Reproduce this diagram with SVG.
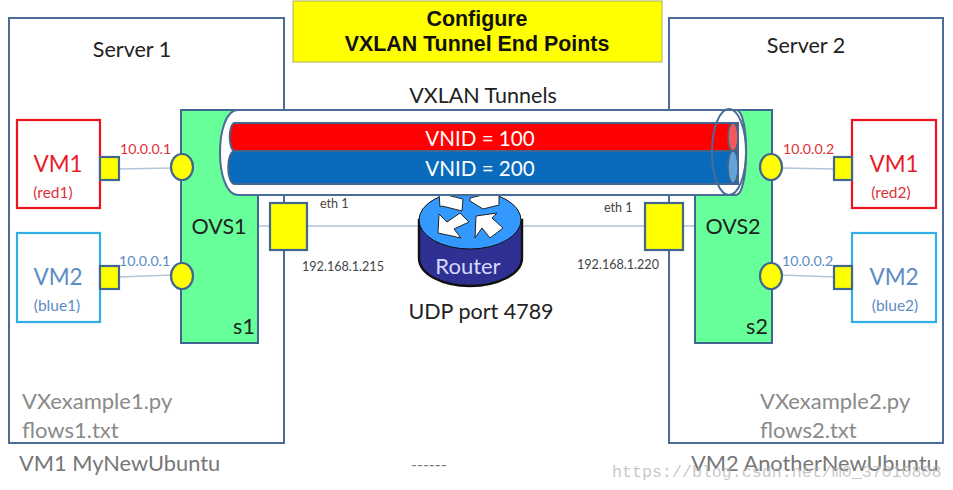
<svg xmlns="http://www.w3.org/2000/svg" width="953" height="490" viewBox="0 0 953 490">
<defs><style>
text{font-family:"Lato","Open Sans","Liberation Sans",sans-serif}
.srv{fill:#fff;stroke:#4a6c96;stroke-width:2}
.ovs{fill:#66ff99;stroke:#41668f;stroke-width:2}
.y{fill:#ffff00;stroke:#41668f;stroke-width:2.2}
.red{fill:#fff;stroke:#f01020;stroke-width:2.2}
.blue{fill:#fff;stroke:#30aee8;stroke-width:2.2}
.link{stroke:#b4c4dc;stroke-width:1.4;fill:none}
.lab{fill:#222;font-size:21.5px;text-anchor:middle}
.ip{font-size:12.6px;fill:#444}
.ipn{font-size:14.2px}
.r{fill:#e0303a}.b{fill:#5b8cc4}
.file{font-size:22px;fill:#8a8a8a}
.vm{font-size:22.5px;text-anchor:middle}
.sub{font-size:15.5px;text-anchor:middle}
.arr{fill:#fff;stroke:#222;stroke-width:1}
.foot{font-size:21.8px;fill:#777}
.ttl{font-size:21.4px;font-weight:700;text-anchor:middle;fill:#111;font-family:"Liberation Sans",sans-serif}
.vnid{font-size:20.6px;text-anchor:middle;fill:#fff}
</style></defs>
<rect width="953" height="490" fill="#fff"/>
<g id="server1"><rect class="srv" x="9" y="18" width="275" height="425"/><text x="132" y="57" class="lab">Server 1</text><text x="22" y="409" class="file">VXexample1.py</text><text x="22" y="438" class="file">flows1.txt</text></g>
<g id="server2"><rect class="srv" x="669" y="18" width="274" height="425"/><text x="806" y="53" class="lab">Server 2</text><text x="760" y="409" class="file">VXexample2.py</text><text x="760" y="438" class="file">flows2.txt</text></g>
<g id="title"><rect x="293" y="1" width="369" height="61" fill="#ffff00" stroke="#b0b060" stroke-width="1"/><text x="477" y="26" class="ttl">Configure</text><text x="477" y="51" class="ttl">VXLAN Tunnel End Points</text></g>
<g id="connectors">
<path class="link" d="M119 169L172 168M119 277L172 275M258 226H270M307 226H420M522 226H645M683 226H695M782 168L834 169M782 275L834 277"/>
</g>
<g id="ovs1"><rect class="ovs" x="181" y="110" width="77" height="233"/><text x="219" y="234" class="lab" fill="#111">OVS1</text><text x="244" y="334" class="lab">s1</text><ellipse class="y" cx="182" cy="167" rx="11" ry="13"/><ellipse class="y" cx="182" cy="276" rx="11" ry="13"/></g>
<g id="ovs2"><rect class="ovs" x="695" y="110" width="77" height="233"/><text x="733" y="234" class="lab">OVS2</text><text x="757" y="334" class="lab">s2</text><ellipse class="y" cx="771" cy="167" rx="11" ry="13"/><ellipse class="y" cx="771" cy="276" rx="11" ry="13"/></g>
<g id="vm1-red1"><rect class="red" x="17" y="120" width="83" height="88"/><text x="58" y="172" class="vm" fill="#e81c28">VM1</text><text x="53" y="198" class="sub r">(red1)</text><rect class="y" x="100" y="157" width="19" height="23"/><text x="120" y="154" class="r ipn">10.0.0.1</text></g>
<g id="vm2-blue1"><rect class="blue" x="17" y="233" width="83" height="89"/><text x="58" y="285" class="vm b">VM2</text><text x="57" y="311" class="sub b">(blue1)</text><rect class="y" x="100" y="266" width="19" height="23"/><text x="119" y="266" class="b ipn">10.0.0.1</text></g>
<g id="vm1-red2"><rect class="red" x="852" y="120" width="84" height="88"/><text x="894" y="172" class="vm" fill="#e81c28">VM1</text><text x="891" y="198" class="sub r">(red2)</text><rect class="y" x="834" y="157" width="18" height="23"/><text x="783" y="154" class="r ipn">10.0.0.2</text></g>
<g id="vm2-blue2"><rect class="blue" x="852" y="233" width="84" height="89"/><text x="894" y="285" class="vm b">VM2</text><text x="895" y="311" class="sub b">(blue2)</text><rect class="y" x="834" y="266" width="18" height="23"/><text x="782" y="266" class="b ipn">10.0.0.2</text></g>
<g id="router">
<path d="M419 220V258C419 274 442 286 470 286S522 274 522 258V220Z" fill="#2e3192" stroke="#111" stroke-width="2.4"/>
<ellipse cx="470" cy="220" rx="51" ry="29" fill="#3399ff" stroke="#111" stroke-width="1"/>
<path class="arr" d="M439 193L463 199L462 211L442 206L440 207Z"/>
<path class="arr" d="M470 198L499 191L499 205L483 209L470 201Z"/>
<path class="arr" d="M439 214L438 233L461 238L454 229L469 222L460 213L447 222Z"/>
<path class="arr" d="M475 238L476 216L497 213L492 218L503 228L490 238L482 228Z"/>
<text x="468" y="274" text-anchor="middle" font-size="22" fill="#d8d8ff">Router</text>
</g>
<g id="eth1"><rect class="y" x="270" y="203" width="37" height="47"/><text x="320" y="208" class="ip">eth 1</text><text x="302" y="271" class="ip">192.168.1.215</text></g>
<g id="eth2"><rect class="y" x="645" y="203" width="38" height="47"/><text x="604" y="212" class="ip">eth 1</text><text x="577" y="269" class="ip">192.168.1.220</text></g>
<g id="tunnel">
<path d="M238 110H736C750 110 749 195 736 195H238C214 195 214 110 238 110Z" fill="#fff" stroke="#4a6c96" stroke-width="2"/>
<path d="M235 123H738V151H235C228 151 228 123 235 123Z" fill="#ff0000" stroke="#41668f" stroke-width="2"/>
<path d="M235 151H738V184H235C226 184 226 151 235 151Z" fill="#0a6bbd" stroke="#41668f" stroke-width="2"/>
<ellipse cx="733" cy="137" rx="5" ry="14" fill="#f25a5a" stroke="#41668f" stroke-width="1.5"/>
<ellipse cx="733" cy="167" rx="5" ry="16" fill="#63a3d8" stroke="#41668f" stroke-width="1.5"/>
<ellipse cx="729" cy="152" rx="17" ry="43" fill="none" stroke="#4a6c96" stroke-width="2"/>
<text x="480" y="146" class="vnid">VNID = 100</text>
<text x="480" y="176" class="vnid">VNID = 200</text>
</g>
<text x="483" y="103" class="lab">VXLAN Tunnels</text>
<text x="481" y="319" class="lab">UDP port 4789</text>
<text x="19" y="471" class="foot">VM1 MyNewUbuntu</text>
<text x="411" y="470" font-size="16" fill="#777">------</text>
<text x="691" y="471" class="foot">VM2 AnotherNewUbuntu</text>
<text x="612" y="477" font-size="16.65" fill="#b5b5b5" fill-opacity="0.75" style="font-family:'Liberation Mono',monospace">https://blog.csdn.net/m0_37010808</text>
</svg>
